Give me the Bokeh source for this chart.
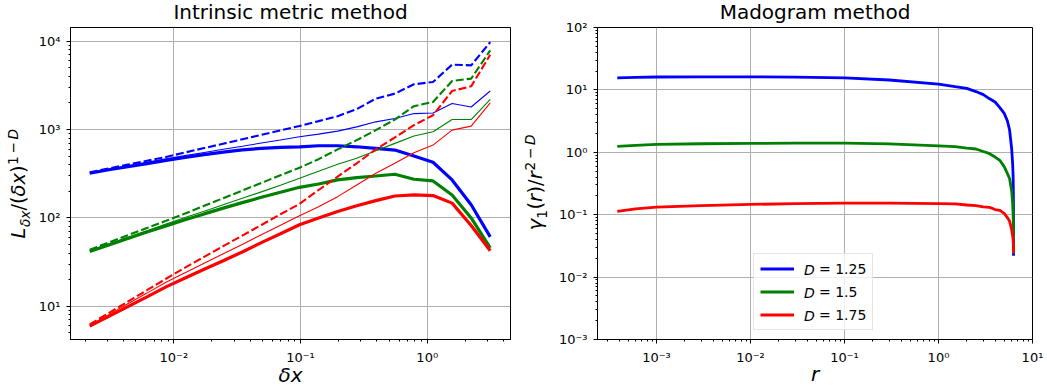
import math
from bokeh.plotting import figure
from bokeh.layouts import row
from bokeh.models import (FixedTicker, CustomJSTickFormatter, Label, Legend,
                          LegendItem, Range1d, GridBox)
from bokeh.embed import file_html
from bokeh.resources import INLINE

# ---------------- data: intrinsic metric method ----------------
dx = [0.002170, 0.003068, 0.004339, 0.006136, 0.008678, 0.012272, 0.017355,
      0.024544, 0.034711, 0.049087, 0.069420, 0.098175, 0.138840, 0.196350,
      0.277680, 0.392699, 0.555360, 0.785398, 1.110721, 1.570796, 2.221442,
      3.141593]

blue_dashed = [328, 363, 401, 443, 489, 550, 617, 692, 776, 871, 977, 1096,
               1245, 1416, 1700, 2240, 2550, 3250, 3450, 5420, 5320, 9750]
blue_thin = [320, 352, 386, 425, 466, 507, 550, 597, 647, 703, 762, 828,
             887, 960, 1072, 1222, 1333, 1515, 1540, 1968, 1800, 2730]
blue_thick = [320, 351, 380, 412, 447, 484, 519, 556, 589, 612, 628, 638,
              655, 655, 638, 612, 586, 501, 426, 269, 141, 61]

green_dashed = [43.6, 52.7, 63.7, 76.9, 92.7, 112, 137, 167, 204, 249, 304,
                370, 462, 596, 759, 984, 1298, 1838, 2050, 3540, 3770, 7850]
green_thin = [42.7, 50.7, 60.3, 71.6, 85.1, 101, 119, 141, 167, 197, 234,
              281, 337, 405, 472, 575, 697, 843, 942, 1298, 1298, 2200]
green_thick = [41.7, 49.5, 58.6, 69.2, 81.3, 95.1, 111, 129, 149, 171, 195,
               222, 242, 269, 286, 298, 312, 274, 262, 182, 100, 45.7]

red_dashed = [6.24, 8.39, 11.3, 15.2, 20.5, 27.4, 36.3, 47.9, 63.1, 83.2, 110,
              144, 207, 293, 415, 597, 813, 1122, 1452, 2730, 3080, 7030]
red_thin = [6.08, 8.05, 10.7, 14.1, 18.7, 24.0, 30.7, 39.3, 50.1, 64.6, 82.6,
            106, 134, 174, 236, 320, 415, 546, 667, 985, 1092, 2000]
red_thick = [5.96, 7.69, 9.93, 12.8, 16.6, 20.9, 26.2, 32.8, 41.2, 52.5, 66.1,
             83.6, 99.5, 118, 137, 157, 177, 182, 179, 147, 82, 42.6]

# ---------------- data: madogram method ----------------
r = [3.83e-4, 6e-4, 1e-3, 3e-3, 1e-2, 3e-2, 0.1, 0.3, 1.0, 1.5, 2.0, 2.5,
     3.0, 3.5, 4.0, 4.5, 5.0, 5.4, 5.7, 6.0, 6.15, 6.22, 6.26, 6.275, 6.2828]
mado_125 = [15.6, 15.9, 16.1, 16.2, 16.2, 16.0, 15.6, 14.4, 12.4, 11.3, 10.6,
            9.4, 8.4, 7.2, 6.4, 5.2, 4.2, 3.2, 2.3, 1.15, 0.65, 0.42, 0.22,
            0.11, 0.022]
mado_150 = [1.24, 1.29, 1.34, 1.37, 1.39, 1.40, 1.40, 1.36, 1.27, 1.23, 1.17,
            1.13, 1.03, 0.95, 0.84, 0.74, 0.59, 0.46, 0.38, 0.24, 0.15, 0.10,
            0.065, 0.045, 0.024]
mado_175 = [0.113, 0.124, 0.132, 0.140, 0.146, 0.150, 0.153, 0.153, 0.150,
            0.149, 0.143, 0.140, 0.134, 0.131, 0.121, 0.117, 0.105, 0.090,
            0.079, 0.058, 0.046, 0.039, 0.033, 0.029, 0.024]
legend_values = ["= 1.25", "= 1.5", "= 1.75"]

left_xticks = [1e-2, 1e-1, 1e0]
left_yticks = [1e1, 1e2, 1e3, 1e4]
right_xticks = [1e-3, 1e-2, 1e-1, 1e0, 1e1]
right_yticks = [1e-3, 1e-2, 1e-1, 1e0, 1e1, 1e2]

BLUE, GREEN, RED = "#0000ff", "#008000", "#ff0000"
FONT = "DejaVu Sans"
W, HGT = 1047, 387

fmt_code = """
const e = Math.round(Math.log10(tick));
const sup = {'-':'\u207b','0':'\u2070','1':'\u00b9','2':'\u00b2','3':'\u00b3',
             '4':'\u2074','5':'\u2075','6':'\u2076','7':'\u2077','8':'\u2078','9':'\u2079'};
return '10' + String(e).split('').map(c => sup[c]).join('');
"""


def minors(lo_exp, hi_exp):
    out = []
    for e in range(lo_exp, hi_exp + 1):
        for m in range(2, 10):
            out.append(m * 10.0 ** e)
    return out


def make_fig(width, xr, yr, xt, yt, xmin, ymin, left, right, top, bottom):
    p = figure(width=width, height=HGT, x_axis_type="log", y_axis_type="log",
               x_range=Range1d(*xr), y_range=Range1d(*yr),
               output_backend="svg", toolbar_location=None,
               min_border_left=left, min_border_right=right,
               min_border_top=top, min_border_bottom=bottom)
    p.outline_line_color = "black"
    p.outline_line_width = 1
    p.outline_line_alpha = 1
    p.background_fill_color = "white"
    p.border_fill_color = "white"
    p.xaxis[0].ticker = FixedTicker(ticks=xt, minor_ticks=xmin)
    p.yaxis[0].ticker = FixedTicker(ticks=yt, minor_ticks=ymin)
    for ax in (p.xaxis[0], p.yaxis[0]):
        ax.formatter = CustomJSTickFormatter(code=fmt_code)
        ax.axis_line_color = "black"
        ax.major_tick_in = 0
        ax.major_tick_out = 4
        ax.minor_tick_in = 0
        ax.minor_tick_out = 2
        ax.major_tick_line_color = "black"
        ax.minor_tick_line_color = "black"
        ax.major_label_text_font = FONT
        ax.major_label_text_font_size = "13px"
        ax.major_label_text_color = "black"
        ax.major_label_standoff = 6
    for g in (p.xgrid[0], p.ygrid[0]):
        g.grid_line_color = "#b0b0b0"
        g.grid_line_width = 1
    return p


# ---------------- left figure ----------------
p1 = make_fig(525, (1.53e-3, 4.54), (4.21, 14270), left_xticks, left_yticks,
              minors(-3, 0), minors(0, 4), 70, 15, 27, 47)

for col, dsh, thn, thk in ((BLUE, blue_dashed, blue_thin, blue_thick),
                           (GREEN, green_dashed, green_thin, green_thick),
                           (RED, red_dashed, red_thin, red_thick)):
    p1.line(dx, thk, line_color=col, line_width=3.2)
    p1.line(dx, thn, line_color=col, line_width=1.1)
    p1.line(dx, dsh, line_color=col, line_width=2.1, line_dash="8 3")

# ---------------- right figure ----------------
p2 = make_fig(522, (2.36e-4, 10.0), (1e-3, 1e2), right_xticks, right_yticks,
              minors(-4, 0), minors(-3, 1), 72, 15, 27, 48)

r1 = p2.line(r, mado_125, line_color=BLUE, line_width=2.8)
r2 = p2.line(r, mado_150, line_color=GREEN, line_width=2.8)
r3 = p2.line(r, mado_175, line_color=RED, line_width=2.8)

legend = Legend(items=[LegendItem(label=legend_values[0], renderers=[r1]),
                       LegendItem(label=legend_values[1], renderers=[r2]),
                       LegendItem(label=legend_values[2], renderers=[r3])],
                location=(156, 9), orientation="vertical",
                padding=6, margin=0, spacing=6, glyph_width=34, glyph_height=17,
                label_height=17, label_standoff=25,
                label_text_font=FONT, label_text_font_size="14px",
                label_text_color="black",
                border_line_color="#cccccc", border_line_width=1,
                background_fill_color="white", background_fill_alpha=0.8)
p2.add_layout(legend)

# ---------------- transparent text layer over the whole page ----------------
ov = figure(width=W, height=HGT, x_range=Range1d(0, W), y_range=Range1d(0, HGT),
            output_backend="svg", toolbar_location=None, min_border=0,
            x_axis_location=None, y_axis_location=None)
ov.grid.visible = False
ov.outline_line_color = None
ov.background_fill_color = None
ov.border_fill_color = None

K = 0.41  # correction for where the alphabetic baseline lands


def lab(x, y, text, size, style="normal", angle=0.0, align="left",
        baseline="alphabetic"):
    # x from the page's left edge, y from the page's bottom edge (pixels)
    if baseline == "alphabetic":
        if angle == 0.0:
            y += K * size
        else:
            x -= K * size
    ov.add_layout(Label(x=x, y=y, x_units="screen", y_units="screen",
                        text=text, text_font=FONT, text_font_size=f"{size}px",
                        text_font_style=style, angle=angle, text_align=align,
                        text_baseline=baseline, text_color="black"))


ROT = math.pi / 2
S, s = 19.5, 13.65

# titles and x labels
lab(290, 367, "Intrinsic metric method", 20, align="center")
lab(814.5, 367, "Madogram method", 20, align="center")
lab(290, 4.5, "\u03b4x", 20, style="italic", align="center")
lab(814.5, 5, "r", 20, style="italic", align="center")

# left y label: L_{δx}/(δx)^{1−D}
bx, y0 = 26, 149
lab(bx, y0 + 0, "L", S, "italic", ROT)
lab(bx + 4, y0 + 11.4, "\u03b4x", s, "italic", ROT)
lab(bx, y0 + 28.0, "/(", S, "normal", ROT)
lab(bx, y0 + 42.0, "\u03b4x", S, "italic", ROT)
lab(bx, y0 + 65.5, ")", S, "normal", ROT)
lab(bx - 8, y0 + 73.5, "1", s, "normal", ROT)
lab(bx - 8, y0 + 85.0, "\u2212", s, "normal", ROT)
lab(bx - 8, y0 + 99.0, "D", s, "italic", ROT)

# right y label: γ_1(r)/r^{2−D}
bx2, y2 = 543, 157
lab(bx2, y2 + 0, "\u03b3", S, "italic", ROT)
lab(bx2 + 4, y2 + 11.8, "1", s, "normal", ROT)
lab(bx2, y2 + 21.0, "(", S, "normal", ROT)
lab(bx2, y2 + 28.6, "r", S, "italic", ROT)
lab(bx2, y2 + 37.0, ")/", S, "normal", ROT)
lab(bx2, y2 + 51.2, "r", S, "italic", ROT)
lab(bx2 - 8, y2 + 60.0, "2", s, "normal", ROT)
lab(bx2 - 8, y2 + 71.4, "\u2212", s, "normal", ROT)
lab(bx2 - 8, y2 + 85.5, "D", s, "italic", ROT)

# italic D in front of the legend entries
for yy in (117.5, 94.5, 71.5):
    lab(803.5, yy, "D", 14, "italic", baseline="middle")

plots = row(p1, p2)
layout = GridBox(children=[(plots, 0, 0), (ov, 0, 0)], spacing=0)
open("out.html", "w").write(file_html(layout, INLINE))
